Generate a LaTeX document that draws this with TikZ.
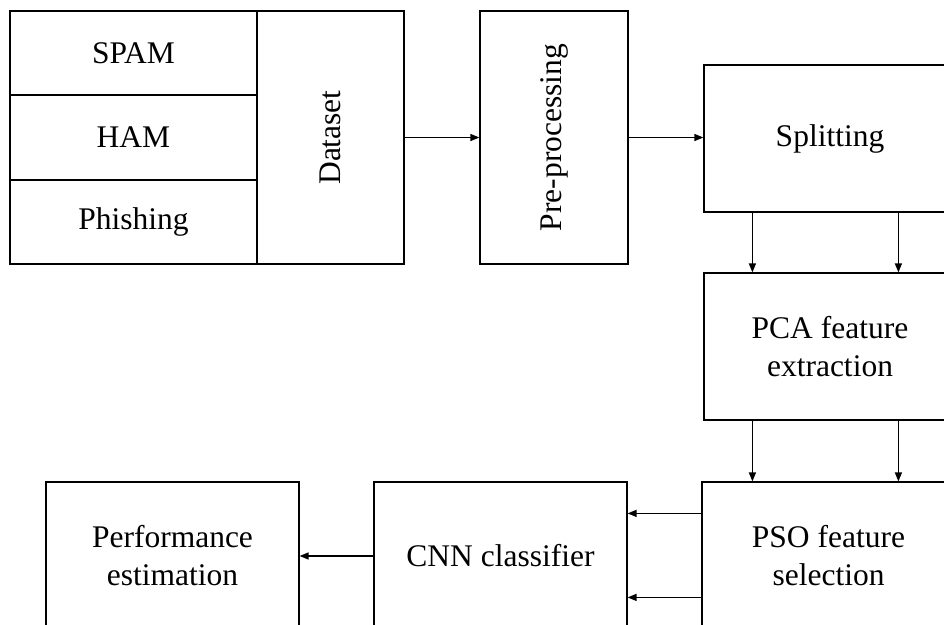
\documentclass[tikz,border=0pt]{standalone}
\usepackage{fontspec}
\setmainfont{Liberation Serif}
\usetikzlibrary{arrows.meta}
\begin{document}
\begin{tikzpicture}[x=1pt,y=-1pt,
  box/.style={draw, line width=1.2pt, inner sep=0pt, align=center,
    font=\fontsize{31.5}{38}\selectfont},
  arr/.style={line width=1.4pt, -{Triangle[length=9pt,width=7pt]}}]
\useasboundingbox (0,0) rectangle (944,624);
\clip (0,0) rectangle (944,624);
% left group
\node[box, minimum width=247pt, minimum height=84pt] (spam) at (133.5,53) {SPAM};
\node[box, minimum width=247pt, minimum height=85pt] (ham) at (133.5,137.5) {HAM};
\node[box, minimum width=247pt, minimum height=84pt] (phish) at (133.5,222) {Phishing};
\node[box, rotate=90, minimum width=253pt, minimum height=147pt] (data) at (330.5,137.5) {Dataset};
\node[box, rotate=90, minimum width=253pt, minimum height=148pt] (pre) at (554,137.5) {Pre-processing};
% right column
\node[box, minimum width=252pt, minimum height=147pt] (split) at (830,138.5) {Splitting};
\node[box, minimum width=252pt, minimum height=147pt] (pca) at (830,346.5) {PCA feature\\extraction};
\node[box, minimum width=253pt, minimum height=148pt] (pso) at (828.5,556) {PSO feature\\selection};
% bottom row
\node[box, minimum width=253pt, minimum height=148pt] (cnn) at (500.5,556) {CNN classifier};
\node[box, minimum width=253pt, minimum height=148pt] (perf) at (172.5,556) {Performance\\estimation};
% connectors
\draw[arr] (data.south) -- (data.south -| pre.north);
\draw[arr] (pre.south) -- (pre.south -| split.west);
\draw[arr] ([xshift=49pt]split.south west) -- ([xshift=49pt]pca.north west);
\draw[arr] ([xshift=195pt]split.south west) -- ([xshift=195pt]pca.north west);
\draw[arr] ([xshift=49pt]pca.south west) -- ([xshift=51pt]pso.north west);
\draw[arr] ([xshift=195pt]pca.south west) -- ([xshift=197pt]pso.north west);
\draw[arr] ([yshift=-32pt]pso.north west) -- ([yshift=-32pt]cnn.north east);
\draw[arr] ([yshift=-116pt]pso.north west) -- ([yshift=-116pt]cnn.north east);
\draw[arr] (cnn) -- (perf);
\end{tikzpicture}
\end{document}
